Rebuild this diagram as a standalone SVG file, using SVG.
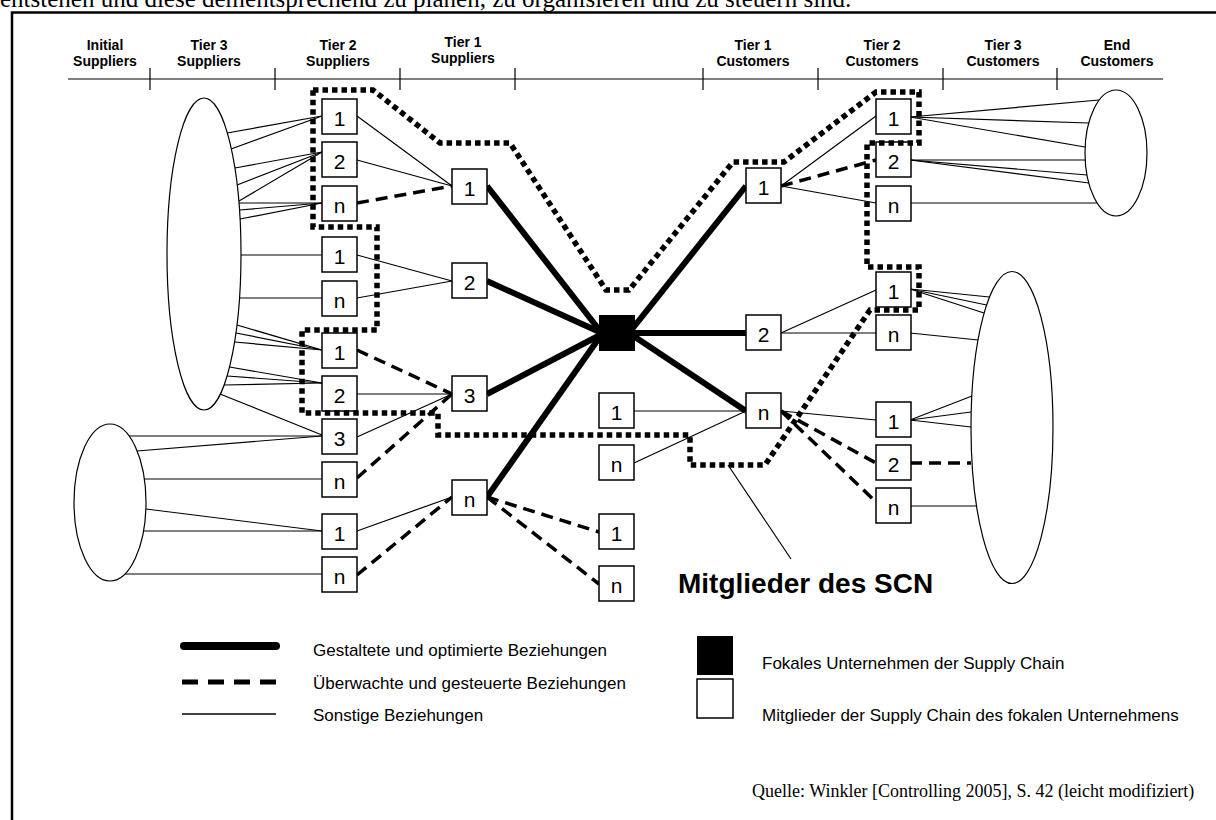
<svg xmlns="http://www.w3.org/2000/svg" width="1216" height="820" viewBox="0 0 1216 820">
  <style>
    .thin { stroke: #000; stroke-width: 1.2; fill: none; }
    .dash { stroke: #000; stroke-width: 3.5; stroke-dasharray: 12 7; fill: none; }
    .thick { stroke: #000; stroke-width: 6; fill: none; }
    .dot { stroke: #000; stroke-width: 5.5; stroke-dasharray: 5.5 4; fill: none; }
    .box rect { fill: #fff; stroke: #000; stroke-width: 1.5; }
    .box text { font-family: "Liberation Sans", Arial, sans-serif; font-size: 21px; text-anchor: middle; fill: #000; }
    .cloud { fill: #fff; stroke: #000; stroke-width: 1.2; }
    .hdr { font-family: "Liberation Sans", Arial, sans-serif; font-weight: bold; font-size: 14px; text-anchor: middle; fill: #000; }
    .leg { font-family: "Liberation Sans", Arial, sans-serif; font-size: 17px; fill: #000; }
    .serif { font-family: "Liberation Serif", "Times New Roman", serif; fill: #000; }
  </style>

  <rect x="0" y="0" width="1216" height="820" fill="#fff"/>

  <!-- running text above the figure and frame -->
  <text class="serif" x="0" y="7" font-size="25">entstehen und diese dementsprechend zu planen, zu organisieren und zu steuern sind.</text>
  <path d="M12,820 L12,12.5 L1216,12.5" fill="none" stroke="#000" stroke-width="2.5"/>

  <!-- tier axis -->
  <g id="axis">
    <line class="thin" x1="68" y1="79" x2="1163" y2="79"/>
    <g class="thin">
      <line x1="150" y1="68" x2="150" y2="90"/>
      <line x1="275" y1="68" x2="275" y2="90"/>
      <line x1="400" y1="68" x2="400" y2="90"/>
      <line x1="515" y1="68" x2="515" y2="90"/>
      <line x1="703" y1="68" x2="703" y2="90"/>
      <line x1="818" y1="68" x2="818" y2="90"/>
      <line x1="943" y1="68" x2="943" y2="90"/>
      <line x1="1057" y1="68" x2="1057" y2="90"/>
    </g>
    <text class="hdr" x="105" y="50">Initial</text>
    <text class="hdr" x="105" y="66">Suppliers</text>
    <text class="hdr" x="209" y="50">Tier 3</text>
    <text class="hdr" x="209" y="66">Suppliers</text>
    <text class="hdr" x="338" y="50">Tier 2</text>
    <text class="hdr" x="338" y="66">Suppliers</text>
    <text class="hdr" x="463" y="47">Tier 1</text>
    <text class="hdr" x="463" y="63">Suppliers</text>
    <text class="hdr" x="753" y="50">Tier 1</text>
    <text class="hdr" x="753" y="66">Customers</text>
    <text class="hdr" x="882" y="50">Tier 2</text>
    <text class="hdr" x="882" y="66">Customers</text>
    <text class="hdr" x="1003" y="50">Tier 3</text>
    <text class="hdr" x="1003" y="66">Customers</text>
    <text class="hdr" x="1117" y="50">End</text>
    <text class="hdr" x="1117" y="66">Customers</text>
  </g>

  <!-- supplier / customer pools -->
  <g id="pool-tier3-suppliers"><ellipse class="cloud" cx="204" cy="254" rx="37" ry="156"/></g>
  <g id="pool-initial-suppliers"><ellipse class="cloud" cx="110" cy="502.5" rx="36" ry="78.5"/></g>
  <g id="pool-end-customers"><ellipse class="cloud" cx="1116" cy="153" rx="31" ry="63"/></g>
  <g id="pool-tier3-customers"><ellipse class="cloud" cx="1012" cy="427.5" rx="41" ry="156"/></g>

  <g id="connectors">
    <!-- other relations -->
    <g class="thin">
      <line x1="227" y1="133" x2="322" y2="116"/>
      <line x1="231" y1="149" x2="322" y2="116"/>
      <line x1="235" y1="168" x2="322" y2="152"/>
      <line x1="237" y1="185" x2="322" y2="152"/>
      <line x1="239" y1="201" x2="322" y2="152"/>
      <line x1="239" y1="203" x2="322" y2="203"/>
      <line x1="239.5" y1="210" x2="322" y2="203"/>
      <line x1="240" y1="219" x2="322" y2="203"/>
      <line x1="241" y1="255" x2="322" y2="255"/>
      <line x1="239.5" y1="298" x2="322" y2="298"/>
      <line x1="237" y1="325" x2="322" y2="350"/>
      <line x1="236" y1="333" x2="322" y2="350"/>
      <line x1="234.5" y1="342" x2="322" y2="350"/>
      <line x1="229.5" y1="367" x2="322" y2="383"/>
      <line x1="227" y1="376" x2="322" y2="383"/>
      <line x1="224" y1="385" x2="322" y2="383"/>
      <line x1="220" y1="394" x2="322" y2="435"/>

      <line x1="129" y1="436" x2="322" y2="436"/>
      <line x1="137" y1="451" x2="322" y2="436"/>
      <line x1="144" y1="479" x2="322" y2="479"/>
      <line x1="146" y1="509" x2="322" y2="531"/>
      <line x1="143.5" y1="531" x2="322" y2="531"/>
      <line x1="125" y1="574" x2="322" y2="574"/>

      <line x1="357" y1="116" x2="452" y2="186"/>
      <line x1="357" y1="160" x2="452" y2="186"/>
      <line x1="357" y1="255" x2="452" y2="281"/>
      <line x1="357" y1="298" x2="452" y2="281"/>
      <line x1="357" y1="394" x2="452" y2="394"/>
      <line x1="357" y1="437" x2="452" y2="394"/>
      <line x1="357" y1="531" x2="452" y2="497"/>

      <line x1="634" y1="411" x2="746" y2="411"/>
      <line x1="634" y1="463" x2="746" y2="411"/>

      <line x1="781" y1="186" x2="876" y2="116"/>
      <line x1="781" y1="186" x2="876" y2="203"/>
      <line x1="781" y1="333" x2="876" y2="290"/>
      <line x1="781" y1="333" x2="876" y2="333"/>
      <line x1="781" y1="411" x2="876" y2="420"/>

      <line x1="910" y1="117" x2="1099" y2="100"/>
      <line x1="910" y1="117" x2="1089" y2="123"/>
      <line x1="910" y1="117" x2="1085" y2="147"/>
      <line x1="910" y1="160" x2="1085" y2="160"/>
      <line x1="910" y1="160" x2="1087" y2="175"/>
      <line x1="910" y1="160" x2="1089" y2="183"/>
      <line x1="910" y1="203" x2="1097" y2="203"/>

      <line x1="910" y1="289" x2="989.5" y2="297"/>
      <line x1="910" y1="289" x2="986.6" y2="305"/>
      <line x1="910" y1="289" x2="984" y2="313"/>
      <line x1="910" y1="333" x2="978" y2="340"/>
      <line x1="910" y1="420" x2="972" y2="396"/>
      <line x1="910" y1="420" x2="971" y2="412"/>
      <line x1="910" y1="420" x2="971" y2="427"/>
      <line x1="910" y1="506" x2="976.6" y2="506"/>

      <!-- pointer to the SCN label -->
      <line x1="728" y1="465" x2="791" y2="559"/>
    </g>

    <!-- monitored and controlled relations -->
    <g class="dash">
      <line x1="357" y1="203" x2="452" y2="186"/>
      <line x1="357" y1="350" x2="452" y2="394"/>
      <line x1="357" y1="478" x2="452" y2="394"/>
      <line x1="357" y1="575" x2="452" y2="497"/>
      <line x1="487" y1="497" x2="599" y2="532"/>
      <line x1="487" y1="497" x2="599" y2="584"/>
      <line x1="781" y1="186" x2="876" y2="160"/>
      <line x1="781" y1="411" x2="876" y2="463"/>
      <line x1="781" y1="411" x2="876" y2="502"/>
      <line x1="910" y1="463" x2="971" y2="463"/>
    </g>

    <!-- designed and optimised relations -->
    <g class="thick">
      <line x1="487" y1="186" x2="604" y2="336"/>
      <line x1="487" y1="281" x2="604" y2="334"/>
      <line x1="487" y1="394" x2="604" y2="333"/>
      <line x1="487" y1="497" x2="604" y2="331"/>
      <line x1="629" y1="333" x2="746" y2="186"/>
      <line x1="629" y1="333" x2="746" y2="333"/>
      <line x1="629" y1="333" x2="746" y2="411"/>
    </g>
  </g>

  <!-- focal company -->
  <g id="focal"><rect x="599" y="315" width="36" height="36" fill="#000"/></g>

  <!-- tier 2 suppliers -->
  <g id="s2-a1" class="box"><rect x="322" y="99" width="35" height="35"/><text x="339.5" y="126">1</text></g>
  <g id="s2-a2" class="box"><rect x="322" y="142" width="35" height="35"/><text x="339.5" y="169">2</text></g>
  <g id="s2-an" class="box"><rect x="322" y="186" width="35" height="35"/><text x="339.5" y="213">n</text></g>
  <g id="s2-b1" class="box"><rect x="322" y="237" width="35" height="35"/><text x="339.5" y="264">1</text></g>
  <g id="s2-bn" class="box"><rect x="322" y="281" width="35" height="35"/><text x="339.5" y="308">n</text></g>
  <g id="s2-c1" class="box"><rect x="322" y="333" width="35" height="35"/><text x="339.5" y="360">1</text></g>
  <g id="s2-c2" class="box"><rect x="322" y="376" width="35" height="35"/><text x="339.5" y="403">2</text></g>
  <g id="s2-c3" class="box"><rect x="322" y="419" width="35" height="35"/><text x="339.5" y="446">3</text></g>
  <g id="s2-cn" class="box"><rect x="322" y="462" width="35" height="35"/><text x="339.5" y="489">n</text></g>
  <g id="s2-d1" class="box"><rect x="322" y="514" width="35" height="35"/><text x="339.5" y="541">1</text></g>
  <g id="s2-dn" class="box"><rect x="322" y="557" width="35" height="35"/><text x="339.5" y="584">n</text></g>

  <!-- tier 1 suppliers -->
  <g id="s1-1" class="box"><rect x="452" y="169" width="35" height="35"/><text x="469.5" y="196">1</text></g>
  <g id="s1-2" class="box"><rect x="452" y="263" width="35" height="35"/><text x="469.5" y="290">2</text></g>
  <g id="s1-3" class="box"><rect x="452" y="376" width="35" height="35"/><text x="469.5" y="403">3</text></g>
  <g id="s1-n" class="box"><rect x="452" y="480" width="35" height="35"/><text x="469.5" y="507">n</text></g>

  <!-- members in the middle column -->
  <g id="m-a1" class="box"><rect x="599" y="393" width="35" height="35"/><text x="616.5" y="420">1</text></g>
  <g id="m-an" class="box"><rect x="599" y="445" width="35" height="35"/><text x="616.5" y="472">n</text></g>
  <g id="m-b1" class="box"><rect x="599" y="514" width="35" height="35"/><text x="616.5" y="541">1</text></g>
  <g id="m-bn" class="box"><rect x="599" y="566" width="35" height="35"/><text x="616.5" y="593">n</text></g>

  <!-- tier 1 customers -->
  <g id="c1-1" class="box"><rect x="746" y="168" width="35" height="35"/><text x="763.5" y="195">1</text></g>
  <g id="c1-2" class="box"><rect x="746" y="315" width="35" height="35"/><text x="763.5" y="342">2</text></g>
  <g id="c1-n" class="box"><rect x="746" y="393" width="35" height="35"/><text x="763.5" y="420">n</text></g>

  <!-- tier 2 customers -->
  <g id="c2-a1" class="box"><rect x="876" y="99" width="35" height="35"/><text x="893.5" y="126">1</text></g>
  <g id="c2-a2" class="box"><rect x="876" y="142" width="35" height="35"/><text x="893.5" y="169">2</text></g>
  <g id="c2-an" class="box"><rect x="876" y="186" width="35" height="35"/><text x="893.5" y="213">n</text></g>
  <g id="c2-b1" class="box"><rect x="876" y="272" width="35" height="35"/><text x="893.5" y="299">1</text></g>
  <g id="c2-bn" class="box"><rect x="876" y="315" width="35" height="35"/><text x="893.5" y="342">n</text></g>
  <g id="c2-c1" class="box"><rect x="876" y="402" width="35" height="35"/><text x="893.5" y="429">1</text></g>
  <g id="c2-c2" class="box"><rect x="876" y="445" width="35" height="35"/><text x="893.5" y="472">2</text></g>
  <g id="c2-cn" class="box"><rect x="876" y="488" width="35" height="35"/><text x="893.5" y="515">n</text></g>

  <!-- boundary of the supply chain network -->
  <g id="scn-boundary">
    <path class="dot" d="M313,90 L373,90 L440,143 L510,143 L606,290 L629,290 L733,162 L784,162 L876,92 L919,92 L919,143 L867,143 L867,267 L919,267 L919,310 L870,310 L765,465 L690,465 L690,435 L438,435 L438,413 L302,413 L302,330 L377,330 L377,227 L313,227 Z"/>
  </g>

  <text x="678" y="593" font-family="'Liberation Sans', Arial, sans-serif" font-weight="bold" font-size="28">Mitglieder des SCN</text>

  <!-- legend -->
  <g id="legend">
    <line x1="184" y1="646" x2="276" y2="646" stroke="#000" stroke-width="8" stroke-linecap="round"/>
    <line x1="182" y1="682" x2="276" y2="682" stroke="#000" stroke-width="5" stroke-dasharray="16 10"/>
    <line x1="182" y1="714" x2="276" y2="714" stroke="#000" stroke-width="1.5"/>
    <text class="leg" x="313" y="656">Gestaltete und optimierte Beziehungen</text>
    <text class="leg" x="313" y="689">Überwachte und gesteuerte Beziehungen</text>
    <text class="leg" x="313" y="721">Sonstige Beziehungen</text>
    <rect x="697" y="636" width="36" height="39" fill="#000"/>
    <rect x="697" y="679" width="36" height="39" fill="#fff" stroke="#000" stroke-width="1.5"/>
    <text class="leg" x="762" y="669">Fokales Unternehmen der Supply Chain</text>
    <text class="leg" x="762" y="721">Mitglieder der Supply Chain des fokalen Unternehmens</text>
  </g>

  <text class="serif" x="752" y="797" font-size="18">Quelle: Winkler [Controlling 2005], S. 42 (leicht modifiziert)</text>
</svg>
